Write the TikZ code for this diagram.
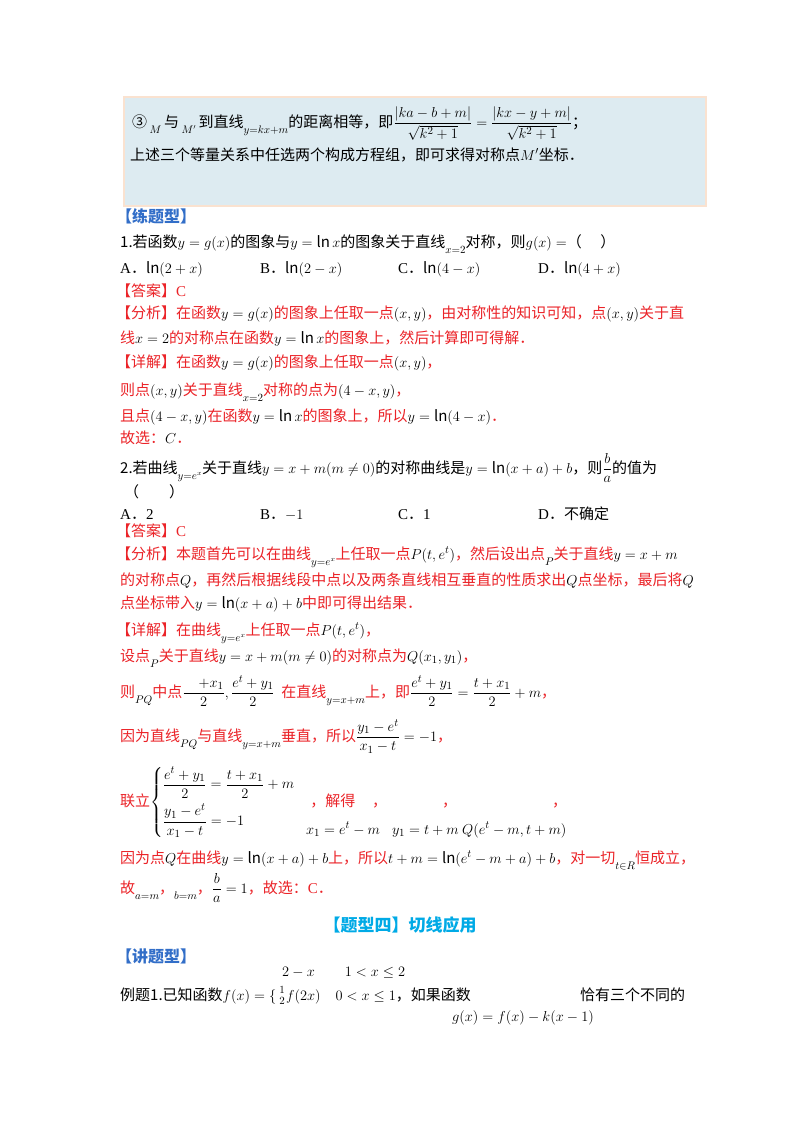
\documentclass[tikz,border=0pt]{standalone}
\usepackage{amsmath}
\usepackage{fontspec}
\setmainfont{Noto Sans CJK SC}
\newfontfamily\lat{Liberation Serif}
\definecolor{rd}{RGB}{235,35,40}
\definecolor{bl}{RGB}{50,110,200}
\definecolor{cy}{RGB}{0,170,230}
\definecolor{boxf}{RGB}{221,235,241}
\definecolor{boxd}{RGB}{250,226,208}
\newcommand{\dn}[1]{\raisebox{-6pt}{$\scriptstyle #1$}}
\everymath{\color{black}}
\tikzset{ln/.style={anchor=base west,inner sep=0pt,font=\fontsize{15}{17}\selectfont},
 red/.style={ln,text=rd}}
\begin{document}
\begin{tikzpicture}[x=1pt,y=-1pt]
\useasboundingbox (0,0) rectangle (800,1132);
\fill[white] (0,0) rectangle (800,1132);
\draw[boxd,fill=boxf,line width=2pt] (124,97) rectangle (706,206);
\node[ln] (b1) at (132,127) {③\,\dn{M}\,与\,\dn{M'}\,到直线\dn{y=kx+m}的距离相等，即$\dfrac{|ka-b+m|}{\sqrt{k^2+1}}=\dfrac{|kx-y+m|}{\sqrt{k^2+1}}$；};
\node[ln] (b2) at (130,160) {上述三个等量关系中任选两个构成方程组，即可求得对称点$M'$坐标．};
\node[ln,text=bl,font=\fontsize{16}{18}\selectfont\bfseries] (h1) at (116,222) {【练题型】};
\node[ln] (q1) at (120,247) {1.若函数$y=g(x)$的图象与$y=\ln x$的图象关于直线\dn{x=2}对称，则$g(x)=$（\quad\ ）};
\node[ln] (q1a) at (120,273) {{\lat A}．$\ln(2+x)$};
\node[ln] (q1b) at (260,273) {{\lat B}．$\ln(2-x)$};
\node[ln] (q1c) at (398,273) {{\lat C}．$\ln(4-x)$};
\node[ln] (q1d) at (538,273) {{\lat D}．$\ln(4+x)$};
\node[red] (a1) at (116,296) {【答案】{\lat C}};
\node[red] (f1) at (116,318) {【分析】在函数$y=g(x)$的图象上任取一点$(x,y)$，由对称性的知识可知，点$(x,y)$关于直};
\node[red] (f2) at (120,343) {线$x=2$的对称点在函数$y=\ln x$的图象上，然后计算即可得解．};
\node[red] (d1) at (116,367) {【详解】在函数$y=g(x)$的图象上任取一点$(x,y)$，};
\node[red] (d2) at (120,395) {则点$(x,y)$关于直线\dn{x=2}对称的点为$(4-x,y)$，};
\node[red] (d3) at (120,421) {且点$(4-x,y)$在函数$y=\ln x$的图象上，所以$y=\ln(4-x)$．};
\node[red] (d4) at (120,443) {故选：$C$．};
\node[ln] (q2) at (120,473) {2.若曲线\dn{y=e^x}关于直线$y=x+m(m\neq0)$的对称曲线是$y=\ln(x+a)+b$，则$\dfrac{b}{a}$的值为};
\node[ln] (q2p) at (124,497) {（\qquad）};
\node[ln] (q2a) at (120,519) {{\lat A}．{\lat 2}};
\node[ln] (q2b) at (260,519) {{\lat B}．$-1$};
\node[ln] (q2c) at (398,519) {{\lat C}．{\lat 1}};
\node[ln] (q2d) at (538,519) {{\lat D}．不确定};
\node[red] (a2) at (116,536) {【答案】{\lat C}};
\node[red] (g1) at (116,559) {【分析】本题首先可以在曲线\dn{y=e^x}上任取一点$P(t,e^t)$，然后设出点\dn{P}关于直线$y=x+m$};
\node[red] (g2) at (120,585) {的对称点$Q$，再然后根据线段中点以及两条直线相互垂直的性质求出$Q$点坐标，最后将$Q$};
\node[red] (g3) at (120,608) {点坐标带入$y=\ln(x+a)+b$中即可得出结果．};
\node[red] (e1) at (116,635) {【详解】在曲线\dn{y=e^x}上任取一点$P(t,e^t)$，};
\node[red] (e2) at (120,661) {设点\dn{P}关于直线$y=x+m(m\neq0)$的对称点为$Q(x_1,y_1)$，};
\node[red] (e3) at (120,697) {则\dn{PQ}中点$\dfrac{\quad+x_1}{2},\dfrac{e^t+y_1}{2}$\ \ 在直线\dn{y=x+m}上，即$\dfrac{e^t+y_1}{2}=\dfrac{t+x_1}{2}+m$，};
\node[red] (e4) at (120,741) {因为直线\dn{PQ}与直线\dn{y=x+m}垂直，所以$\dfrac{y_1-e^t}{x_1-t}=-1$，};
\node[red] (e5) at (120,806) {联立$\left\{\begin{array}{@{}l@{}}\dfrac{e^t+y_1}{2}=\dfrac{t+x_1}{2}+m\\[10pt]\dfrac{y_1-e^t}{x_1-t}=-1\end{array}\right.$\quad，解得};
\node[red] (c1) at (372,806) {，};
\node[red] (c2) at (442,806) {，};
\node[red] (c3) at (552,806) {，};
\node[ln] (s1) at (306,834) {$x_1=e^t-m$};
\node[ln] (s2) at (392,834) {$y_1=t+m$};
\node[ln] (s3) at (462,834) {$Q(e^t-m,t+m)$};
\node[red] (e6) at (120,863) {因为点$Q$在曲线$y=\ln(x+a)+b$上，所以$t+m=\ln(e^t-m+a)+b$，对一切\dn{t\in R}恒成立，};
\node[red] (e7) at (120,893) {故\dn{a=m}，\dn{b=m}，$\dfrac ba=1$，故选：{\lat C}．};
\node[anchor=base,inner sep=0pt,text=cy,font=\fontsize{17}{19}\selectfont\bfseries] (h2) at (400,931) {【题型四】切线应用};
\node[ln,text=bl,font=\fontsize{16}{18}\selectfont\bfseries] (h3) at (116,962) {【讲题型】};
\node[ln] (x0) at (282,976) {$2-x\qquad 1<x\le2$};
\node[ln] (x1) at (120,1000) {例题1.已知函数$f(x)=\{$};
\node[ln] (x4) at (278,1000) {$\genfrac{}{}{0pt}{}{1}{2}f(2x)\quad 0<x\le1$，如果函数};
\node[ln] (x2) at (452,1021) {$g(x)=f(x)-k(x-1)$};
\node[ln] (x3) at (580,1000) {恰有三个不同的};
\end{tikzpicture}
\end{document}
